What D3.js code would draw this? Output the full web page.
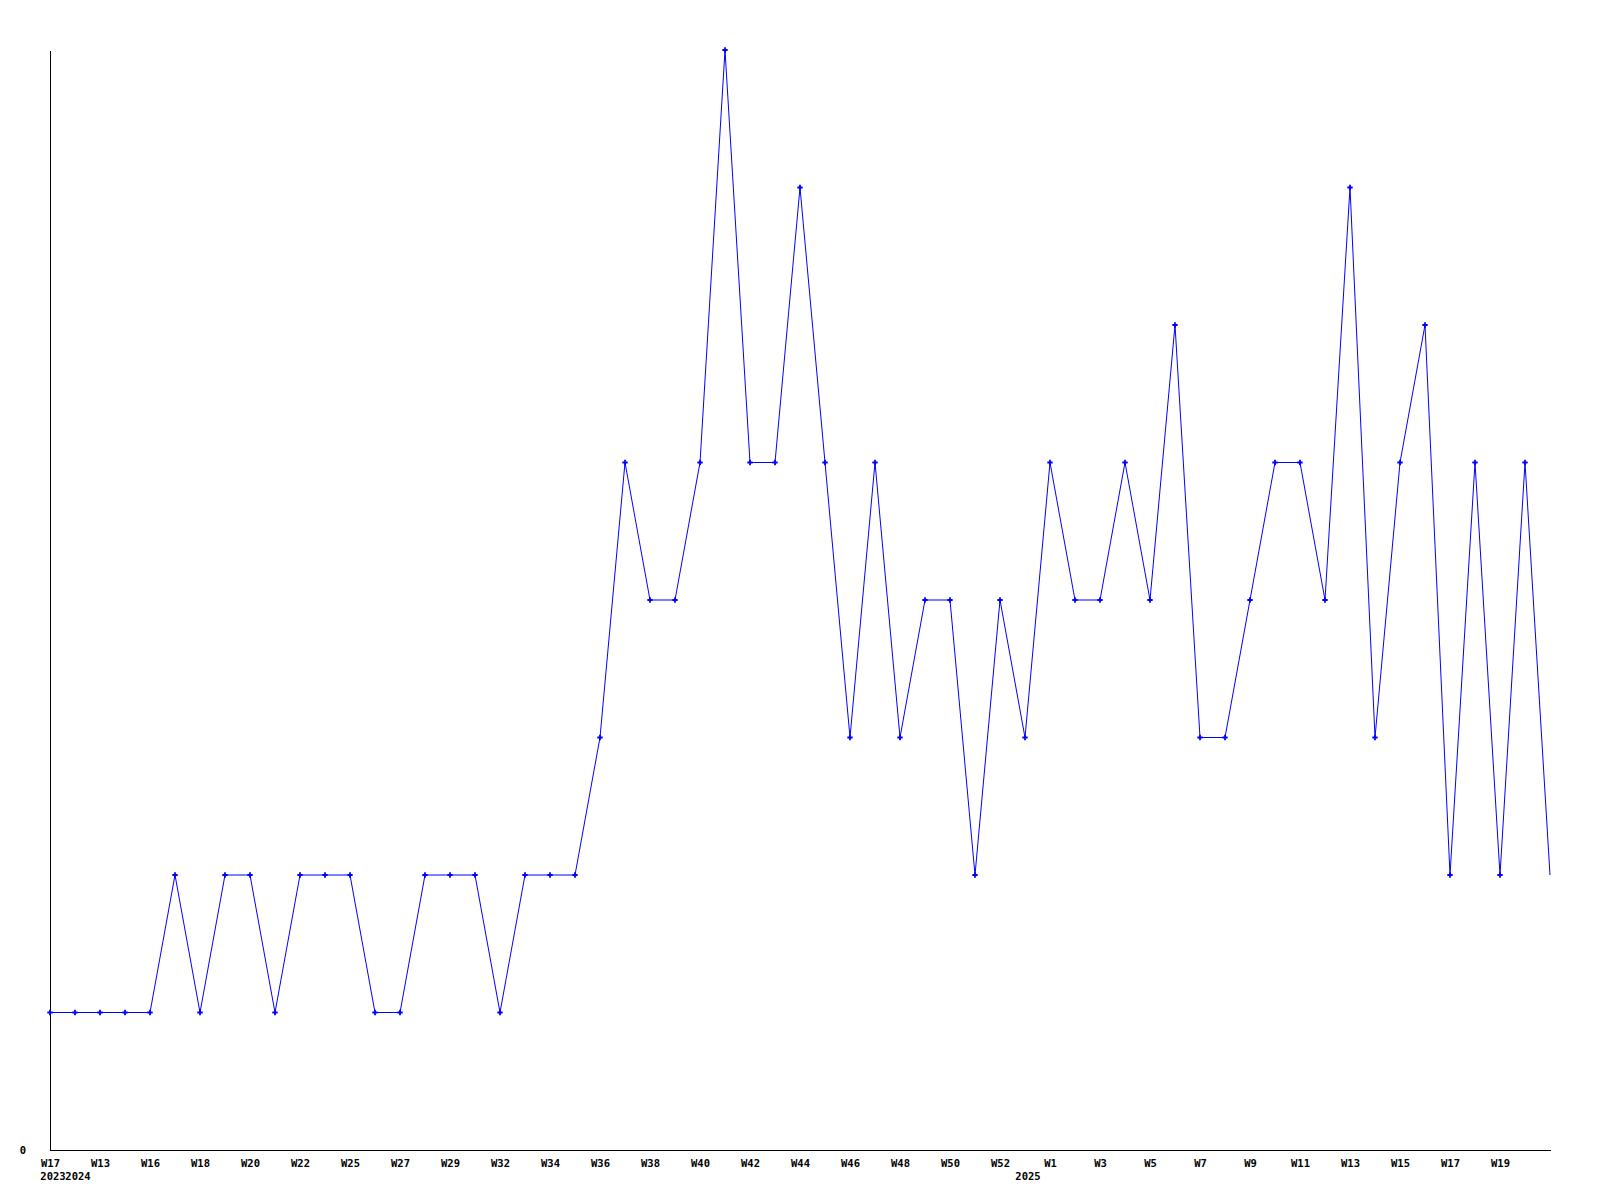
<!DOCTYPE html>
<html>
<head>
<meta charset="utf-8">
<script src="https://cdn.jsdelivr.net/npm/d3@7"></script>
<style>
  html, body { margin: 0; padding: 0; background: #fff; }
  svg { display: block; }
  text { font-family: "DejaVu Sans Mono", "Liberation Mono", monospace; font-weight: bold; font-size: 10.5px; fill: #000; }
</style>
</head>
<body>
<script>
// Week labels, one per data point
const weeks = [
  "W17","W12","W13","W15","W16","W17","W18","W19","W20","W21",
  "W22","W24","W25","W26","W27","W28","W29","W31","W32","W33",
  "W34","W35","W36","W37","W38","W39","W40","W41","W42","W43",
  "W44","W45","W46","W47","W48","W49","W50","W51","W52","W0",
  "W1","W2","W3","W4","W5","W6","W7","W8","W9","W10",
  "W11","W12","W13","W14","W15","W16","W17","W18","W19","W20",
  "W21"
];
// Year labels shown under the first point of each year
const yearIndex = [0, 1, 39];
const yearLabels = ["2023", "2024", "2025"];
// Values
const values = [
  1,1,1,1,1,2,1,2,2,1,
  2,2,2,1,1,2,2,2,1,2,
  2,2,3,5,4,4,5,8,5,5,
  7,5,3,5,3,4,4,2,4,3,
  5,4,4,5,4,6,3,3,4,5,
  5,4,7,3,5,6,2,5,2,5,
  2
];
const yTickValues = [0];

const W = 1600, H = 1200;
const svg = d3.select("body").append("svg").attr("width", W).attr("height", H);

const x = d3.scaleLinear().domain([0, values.length - 1]).range([50, 1550]);
const y = d3.scaleLinear().domain([0, 8]).range([1150, 50]);

const fontStyle = sel => sel
  .style("font-family", "'DejaVu Sans Mono', monospace")
  .style("font-size", "10.5px")
  .style("font-weight", "bold")
  .attr("fill", "#000");

const xAxis = d3.axisBottom(x)
  .tickValues(d3.range(0, values.length - 1, 2))
  .tickSize(0).tickPadding(0)
  .tickFormat(i => weeks[i]);
const gx = svg.append("g").attr("transform", "translate(0,1150)").call(xAxis);
gx.select(".domain").attr("stroke", "#000").attr("shape-rendering", "crispEdges");
gx.selectAll("text").attr("dy", null).attr("y", 17).call(fontStyle);

const yAxis = d3.axisLeft(y).tickValues(yTickValues).tickSize(0).tickPadding(0).tickFormat(d3.format("d"));
const gy = svg.append("g").attr("transform", "translate(50,0)").call(yAxis);
gy.select(".domain").attr("stroke", "#000").attr("shape-rendering", "crispEdges");
gy.selectAll("text").attr("x", -27).attr("dy", "0.3em").attr("text-anchor", "middle").call(fontStyle);

// year labels
svg.append("g").selectAll("text").data(yearIndex).join("text")
  .attr("x", d => x(d) + 3)
  .attr("y", 1180)
  .attr("text-anchor", "middle")
  .text((d, i) => yearLabels[i]);

// line
const line = d3.line().x((d, i) => x(i)).y(d => y(d));
svg.append("path").datum(values)
  .attr("d", line)
  .attr("fill", "none")
  .attr("stroke", "#0000ff")
  .attr("stroke-width", 1);

// markers (all but last)
const sym = d3.symbol().type(d3.symbolCross).size(16);
svg.append("g").selectAll("path").data(values.slice(0, -1)).join("path")
  .attr("transform", (d, i) => `translate(${x(i)},${y(d)})`)
  .attr("d", sym)
  .attr("fill", "#0000ff");
</script>
</body>
</html>
